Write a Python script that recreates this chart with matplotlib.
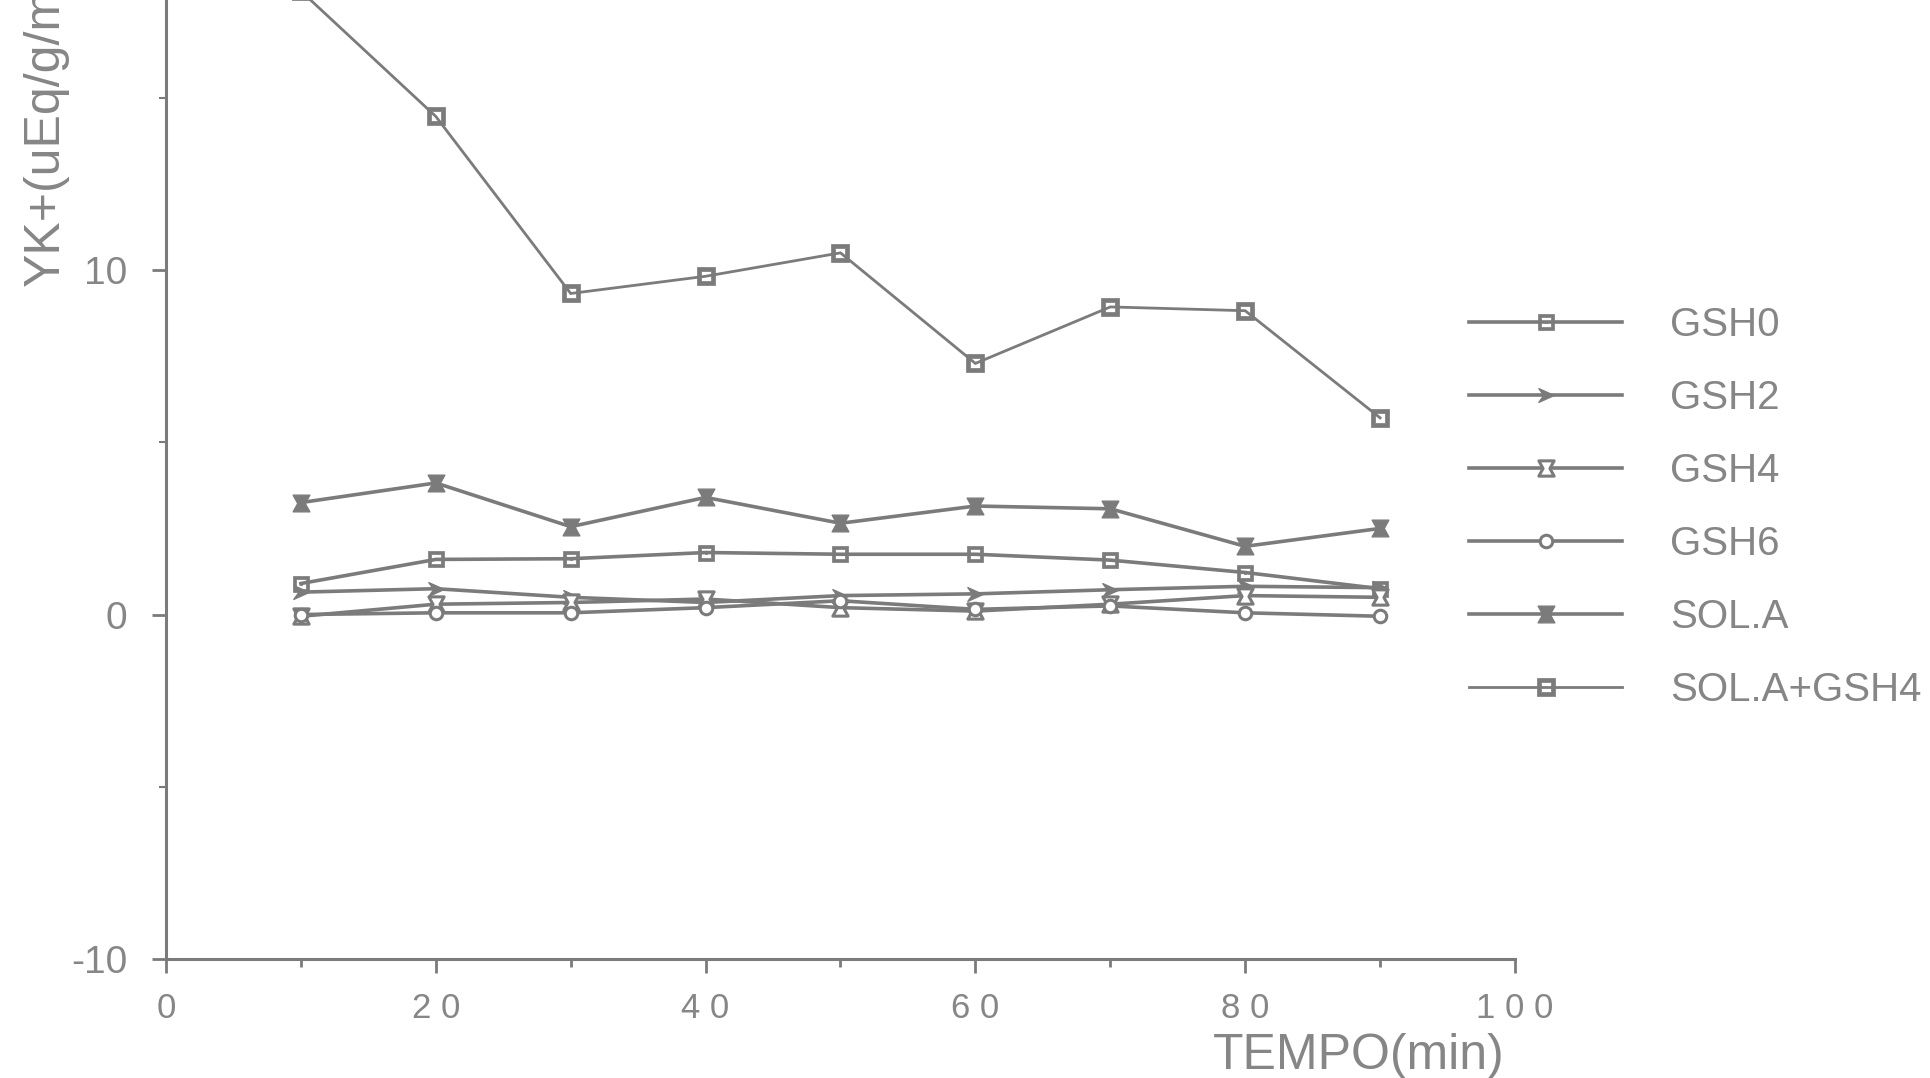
import numpy as np
import matplotlib
matplotlib.use("Agg")
import matplotlib.pyplot as plt
from matplotlib.path import Path
from matplotlib.ticker import FixedLocator

plt.rcParams["font.family"] = ["Liberation Sans", "DejaVu Sans"]

# ---- data -------------------------------------------------------------
tempo = [10, 20, 30, 40, 50, 60, 70, 80, 90]
gsh0 = [0.90, 1.60, 1.62, 1.80, 1.75, 1.75, 1.58, 1.22, 0.75]
gsh2 = [0.65, 0.75, 0.50, 0.35, 0.55, 0.60, 0.72, 0.82, 0.78]
gsh4 = [-0.05, 0.30, 0.35, 0.45, 0.20, 0.10, 0.30, 0.55, 0.50]
gsh6 = [0.00, 0.05, 0.05, 0.20, 0.40, 0.15, 0.25, 0.05, -0.05]
sol_a = [3.25, 3.82, 2.55, 3.40, 2.65, 3.15, 3.07, 1.98, 2.50]
sol_a_gsh4 = [18.1, 14.46, 9.32, 9.82, 10.50, 7.29, 8.93, 8.82, 5.71]

series_names = ["GSH0", "GSH2", "GSH4", "GSH6", "SOL.A", "SOL.A+GSH4"]

x_major = [0, 20, 40, 60, 80, 100]
x_minor = [10, 30, 50, 70, 90]
y_major = [-10, 0, 10]
y_minor = [-5, 5, 15]

# ---- styling ----------------------------------------------------------
INK = "#7b7b7b"
TXT = "#868686"


def _square(h):
    return [(-h, -h), (h, -h), (h, h), (-h, h), (-h, -h)]


def ring_square(dot=False):
    outer = Path(_square(1.0), closed=True)
    inner = Path(_square(0.6)[::-1], closed=True)
    parts = [outer, inner]
    if dot:
        parts.append(Path(_square(0.17), closed=True))
    return Path.make_compound_path(*parts)


bowtie = Path([(-1, 1), (1, 1), (0.45, 0), (1, -1), (-1, -1), (-0.45, 0), (-1, 1)],
              closed=True)
arrow = Path([(-1, 0.9), (1, 0), (-1, -0.9), (-0.35, 0), (-1, 0.9)], closed=True)

styles = {
    "GSH0": dict(marker=ring_square(dot=True), ms=11, mfc=INK, mec=INK, mew=0.5),
    "GSH2": dict(marker=arrow, ms=11, mfc=INK, mec=INK, mew=1),
    "GSH4": dict(marker=bowtie, ms=11, mfc="white", mec=INK, mew=2.2),
    "GSH6": dict(marker="o", ms=9, mfc="white", mec=INK, mew=2.2),
    "SOL.A": dict(marker=bowtie, ms=12, mfc=INK, mec=INK, mew=1),
    "SOL.A+GSH4": dict(marker=ring_square(), ms=13, mfc=INK, mec=INK, mew=0.5),
}
values = {
    "GSH0": gsh0, "GSH2": gsh2, "GSH4": gsh4, "GSH6": gsh6,
    "SOL.A": sol_a, "SOL.A+GSH4": sol_a_gsh4,
}

W, H = 1931, 1078
fig = plt.figure(figsize=(W / 100, H / 100), dpi=100)
ax = fig.add_axes([166 / W, 119 / H, 1349 / W, 959 / H])

handles = []
for name in series_names:
    lw = 2.0 if name == "SOL.A+GSH4" else 2.6
    (h,) = ax.plot(tempo, values[name], color=INK, lw=lw, label=name,
                   solid_joinstyle="miter", **styles[name])
    handles.append(h)

ax.set_xlim(0, 100)
ax.set_ylim(-10, 17.84)

for side in ("top", "right"):
    ax.spines[side].set_visible(False)
for side in ("left", "bottom"):
    ax.spines[side].set_color(INK)
    ax.spines[side].set_linewidth(2.2)

ax.xaxis.set_major_locator(FixedLocator(x_major))
ax.xaxis.set_minor_locator(FixedLocator(x_minor))
ax.yaxis.set_major_locator(FixedLocator(y_major))
ax.yaxis.set_minor_locator(FixedLocator(y_minor))
ax.set_xticklabels([" ".join(str(v)) for v in x_major])
ax.set_yticklabels([str(v) for v in y_major])

ax.tick_params(axis="x", which="major", direction="out", length=10, width=2,
               color=INK, labelcolor=TXT, labelsize=25, pad=14)
ax.tick_params(axis="x", which="minor", direction="out", length=6, width=2,
               color=INK)
ax.tick_params(axis="y", which="major", direction="out", length=10, width=2,
               color=INK, labelcolor=TXT, labelsize=28, pad=18)
ax.tick_params(axis="y", which="minor", direction="out", length=5, width=1.5,
               color=INK)

fig.text(46 / W, 1 - 286 / H, "ΥK+(uEq/g/min)", rotation=90, ha="center",
         va="bottom", fontsize=36, color=TXT)
fig.text(1505 / W, 1 - 1069 / H, "TEMPO(min)", ha="right", va="baseline",
         fontsize=36, color=TXT)

leg = fig.legend(handles, series_names, loc="upper left",
                 bbox_to_anchor=(1469 / W, 1 - 306 / H), frameon=False,
                 fontsize=29, handlelength=3.8, handletextpad=1.2,
                 labelspacing=0.87, borderpad=0, borderaxespad=0,
                 numpoints=1)
for t in leg.get_texts():
    t.set_color(TXT)

fig.savefig("out.png", dpi=100, facecolor="white")
